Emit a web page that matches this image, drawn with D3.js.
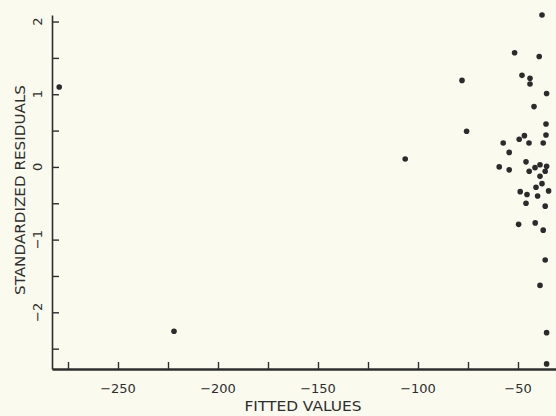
<!DOCTYPE html>
<html>
<head>
<meta charset="utf-8">
<script src="https://cdn.jsdelivr.net/npm/d3@7"></script>
<style>
  body { margin: 0; background: #fafaee; }
  svg { display: block; }
  .axis path, .axis line { stroke: #2e2e2e; }
  text { fill: #2e2e2e; font-family: "DejaVu Sans", sans-serif; }
</style>
</head>
<body>
<div id="chart"></div>
<script>
// data
const fittedValues = [
  -279.4, -222, -106.4, -78, -75.7,
  -38, -51.7, -39.4, -48, -44, -44, -35.7, -42, -36,
  -57.4, -49.4, -46.8, -44.5, -36, -37.4,
  -54.4, -59.4, -54.4, -46, -44.4, -41.5, -39, -35.7, -36.4, -39, -38,
  -41, -34.7, -48.9, -45.5, -46, -40.2, -36.4,
  -49.7, -41.4, -37.4, -36.4, -39, -35.7, -35.7
];
const residuals = [
  1.10, -2.26, 0.11, 1.19, 0.49,
  2.09, 1.57, 1.52, 1.26, 1.22, 1.14, 1.01, 0.83, 0.59,
  0.33, 0.38, 0.43, 0.33, 0.44, 0.33,
  0.20, 0.00, -0.04, 0.07, -0.06, -0.01, 0.03, 0.01, -0.06, -0.13, -0.23,
  -0.28, -0.33, -0.34, -0.38, -0.50, -0.40, -0.54,
  -0.79, -0.77, -0.87, -1.28, -1.63, -2.28, -2.71
];
const xTicks = [-275, -250, -225, -200, -175, -150, -125, -100, -75, -50];
const xLabels = [-250, -200, -150, -100, -50];
const yTicks = [-2.5, -2, -1.5, -1, -0.5, 0, 0.5, 1, 1.5, 2];
const yLabels = [-2, -1, 0, 1, 2];

const W = 556, H = 416;

const svg = d3.select('#chart')
    .append('svg')
    .attr('width', W)
    .attr('height', H);

svg.append('rect')
    .attr('width', W)
    .attr('height', H)
    .attr('fill', '#fafaee');

const x = d3.scaleLinear()
    .domain([-283, -31])
    .range([52, 556]);

const y = d3.scaleLinear()
    .domain([-2.78, 2.09])
    .range([369, 15]);

// x axis, ticks pointing up into the plot
const xAxis = svg.append('g')
    .attr('class', 'axis')
    .attr('transform', `translate(0, ${y.range()[0]})`)
    .call(d3.axisBottom(x)
        .tickValues(xTicks)
        .tickSize(-7)
        .tickSizeOuter(0)
        .tickFormat(''));
xAxis.select('.domain').attr('stroke-width', 2.5);
xAxis.selectAll('.tick line').attr('stroke-width', 1.4);

// y axis, ticks pointing right
const yAxis = svg.append('g')
    .attr('class', 'axis')
    .attr('transform', `translate(${x.range()[0]}, 0)`)
    .call(d3.axisLeft(y)
        .tickValues(yTicks)
        .tickSize(-7)
        .tickSizeOuter(0)
        .tickFormat(''));
yAxis.select('.domain').attr('stroke-width', 1.6);
yAxis.selectAll('.tick line').attr('stroke-width', 1.4);

// tick labels
const fmt = d3.format('d');
svg.selectAll('.xlab')
    .data(xLabels)
    .enter().append('text')
    .attr('class', 'xlab')
    .attr('x', d => x(d))
    .attr('y', 393)
    .attr('text-anchor', 'middle')
    .attr('font-size', 13)
    .text(d => fmt(d));

svg.selectAll('.ylab')
    .data(yLabels)
    .enter().append('text')
    .attr('class', 'ylab')
    .attr('transform', d => `translate(42, ${y(d)}) rotate(-90)`)
    .attr('text-anchor', 'middle')
    .attr('font-size', 13)
    .text(d => fmt(d));

// axis titles
svg.append('text')
    .attr('x', 303)
    .attr('y', 411)
    .attr('text-anchor', 'middle')
    .attr('font-size', 14)
    .attr('textLength', 117)
    .attr('lengthAdjust', 'spacingAndGlyphs')
    .text('FITTED VALUES');

svg.append('text')
    .attr('transform', 'translate(25, 190) rotate(-90)')
    .attr('text-anchor', 'middle')
    .attr('font-size', 14)
    .attr('textLength', 210)
    .attr('lengthAdjust', 'spacingAndGlyphs')
    .text('STANDARDIZED RESIDUALS');

// points
const points = fittedValues.map((v, i) => ({ fit: v, res: residuals[i] }));
svg.selectAll('.dot')
    .data(points)
    .enter().append('circle')
    .attr('class', 'dot')
    .attr('cx', d => x(d.fit))
    .attr('cy', d => y(d.res))
    .attr('r', 2.8)
    .attr('fill', '#2b2b2b');
</script>
</body>
</html>
